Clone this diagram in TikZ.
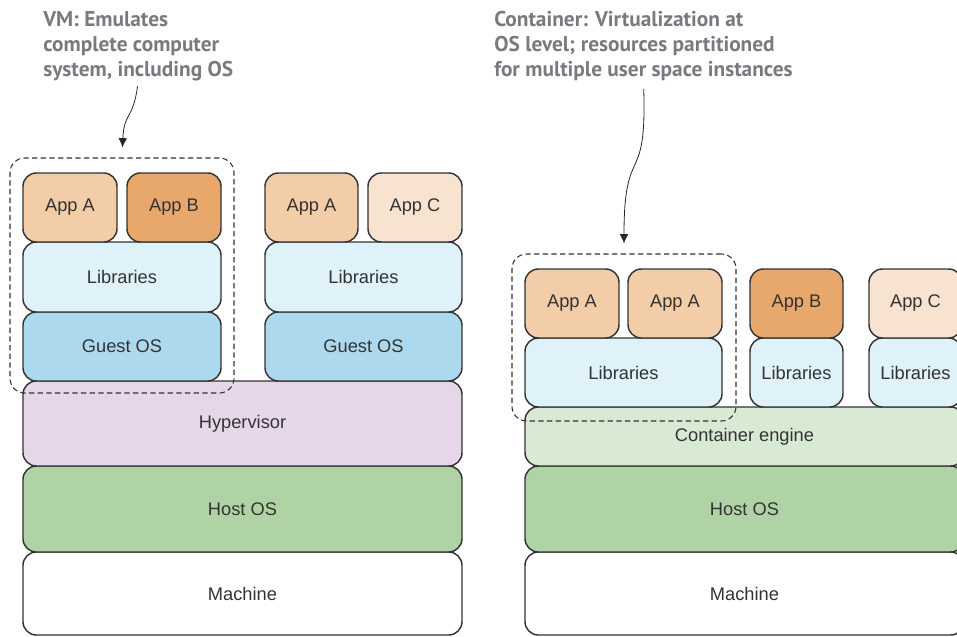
\documentclass[tikz,border=0pt]{standalone}
\usepackage{fontspec}
\setmainfont{Liberation Sans}
\newfontfamily\notefont{PT Sans}
\usetikzlibrary{arrows.meta}
\definecolor{appa}{HTML}{F3CDA7}
\definecolor{appb}{HTML}{E8A86C}
\definecolor{appc}{HTML}{F7E3D0}
\definecolor{libs}{HTML}{DFF1F9}
\definecolor{guest}{HTML}{ADD9EE}
\definecolor{hyper}{HTML}{E7D6E9}
\definecolor{hostos}{HTML}{B0D3A5}
\definecolor{engine}{HTML}{D8EAD4}
\definecolor{boxline}{HTML}{333333}
\definecolor{notegray}{HTML}{777A7E}
\newcommand{\boxfont}{\fontsize{13.7pt}{16pt}\selectfont}
\newcommand{\notesize}{\fontsize{16pt}{18.75pt}\selectfont}
\def\px{0.75pt}

\begin{document}
\begin{tikzpicture}[x=0.75pt, y=-0.75pt,
    layer/.style={draw=boxline, line width=1.1pt, rounded corners=10pt,
      font=\boxfont, text=boxtext, inner sep=0pt},
    group/.style={draw=boxline, line width=0.8pt, dash pattern=on 4pt off 2.5pt,
      rounded corners=11pt, inner sep=0pt},
    note/.style={font=\notefont\bfseries\notesize, text=notegray, align=left,
      anchor=north west, inner sep=0pt},
    notearrow/.style={-{Latex[length=7pt,width=6.5pt]}, line width=0.6pt, draw=black!85}]
  \colorlet{boxtext}{boxline}
  \useasboundingbox (0,0) rectangle (957,636);
  \clip (0,0) rectangle (957,636);

  % --- Left: virtual machines ---
  \node[layer, fill=white, minimum width=439*\px, minimum height=83*\px] (vmmachine) at (242.5,593.5) {Machine};
  \node[layer, fill=hostos, minimum width=439*\px, minimum height=86*\px] (vmhost) at (242.5,509) {Host OS};
  \node[layer, fill=hyper, minimum width=439*\px, minimum height=85*\px] (hyper) at (242.5,423.5) {Hypervisor};

  \node[layer, fill=guest, minimum width=198*\px, minimum height=69*\px] (guesta) at (122,346.5) {Guest OS};
  \node[layer, fill=libs, minimum width=198*\px, minimum height=70*\px] (vmlibsa) at (122,277) {Libraries};
  \node[layer, fill=appa, minimum width=94*\px, minimum height=69*\px] (vmappa) at (70,207.5) {App A};
  \node[layer, fill=appb, minimum width=94*\px, minimum height=69*\px] (vmappb) at (174,207.5) {App B};

  \node[layer, fill=guest, minimum width=197*\px, minimum height=69*\px] (guestb) at (363.5,346.5) {Guest OS};
  \node[layer, fill=libs, minimum width=197*\px, minimum height=70*\px] (vmlibsb) at (363.5,277) {Libraries};
  \node[layer, fill=appa, minimum width=93*\px, minimum height=69*\px] (vmappa2) at (311.5,207.5) {App A};
  \node[layer, fill=appc, minimum width=94*\px, minimum height=69*\px] (vmappc) at (415,207.5) {App C};

  \node[group, minimum width=224*\px, minimum height=235*\px] (vmgroup) at (122,275.5) {};

  % --- Right: containers ---
  \node[layer, fill=white, minimum width=439*\px, minimum height=83*\px] (ctmachine) at (744.5,593.5) {Machine};
  \node[layer, fill=hostos, minimum width=439*\px, minimum height=86*\px] (cthost) at (744.5,509) {Host OS};
  \node[layer, fill=engine, minimum width=439*\px, minimum height=59*\px] (engine) at (744.5,436.5) {Container engine};

  \node[layer, fill=libs, minimum width=197*\px, minimum height=69*\px] (ctlibsa) at (623.5,372.5) {Libraries};
  \node[layer, fill=appa, minimum width=94*\px, minimum height=69*\px] (ctappa) at (572,303.5) {App A};
  \node[layer, fill=appa, minimum width=94*\px, minimum height=69*\px] (ctappa2) at (675,303.5) {App A};

  \node[layer, fill=libs, minimum width=93*\px, minimum height=69*\px] (ctlibsb) at (796.5,372.5) {Libraries};
  \node[layer, fill=appb, minimum width=93*\px, minimum height=69*\px] (ctappb) at (796.5,303.5) {App B};

  \node[layer, fill=libs, minimum width=93*\px, minimum height=69*\px] (ctlibsc) at (915.5,372.5) {Libraries};
  \node[layer, fill=appc, minimum width=93*\px, minimum height=69*\px] (ctappc) at (915.5,303.5) {App C};

  \node[group, minimum width=224*\px, minimum height=167*\px] (ctgroup) at (624,337.5) {};

  % --- Notes ---
  \node[note] (vmnote) at (43,11) {VM: Emulates\\complete computer\\system, including OS};
  \node[note] (ctnote) at (494,11) {Container: Virtualization at\\OS level; resources partitioned\\for multiple user space instances};

  \draw[notearrow, shorten <=4pt, shorten >=7.5pt] (vmnote.south) .. controls (133,120) and (124,112) .. (vmgroup.north);
  \draw[notearrow, shorten <=6pt, shorten >=7.5pt] (ctnote.south) .. controls (647,190) and (624,140) .. (ctgroup.north);
\end{tikzpicture}
\end{document}
